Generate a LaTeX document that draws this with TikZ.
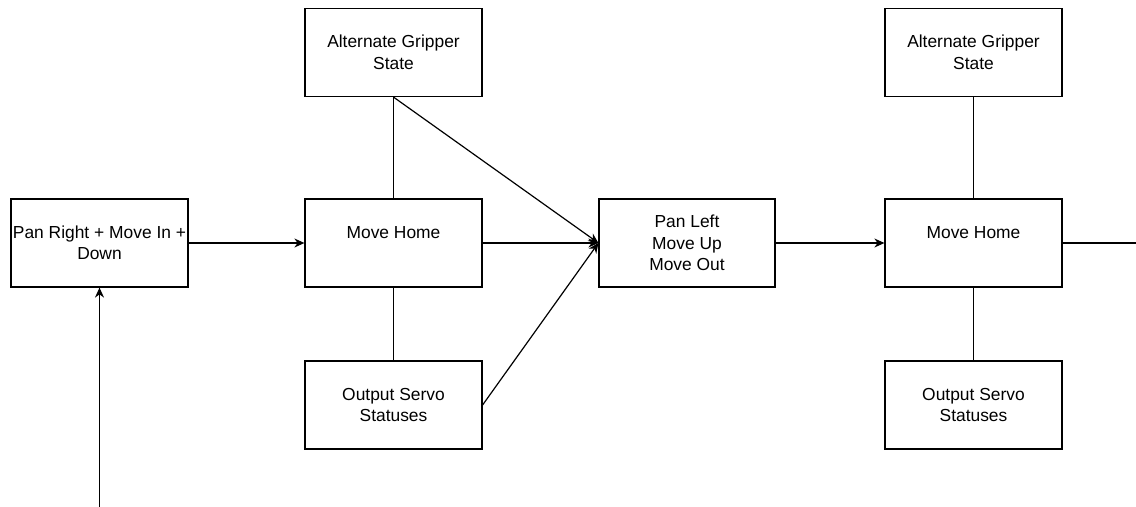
\documentclass[tikz,border=0pt]{standalone}
\usepackage{fontspec}
\setmainfont{Liberation Sans}
\usetikzlibrary{arrows.meta}
\begin{document}
\begin{tikzpicture}[x=0.5pt,y=-0.5pt,
  box/.style={draw, line width=0.6pt, minimum width=88.5pt, minimum height=44pt,
    inner sep=0pt, align=center, font=\fontsize{8.7pt}{10.75pt}\selectfont},
  link/.style={line width=0.6pt},
  flow/.style={link, -{Stealth[length=5pt,width=4.5pt,inset=1.6pt]}}]
\useasboundingbox (0,0) rectangle (1136,507);
% left column
\node[box] (start) at (99.5,243) {Pan Right + Move In +\\Down};
% first home group
\node[box] (grip1) at (393.5,52.5) {Alternate Gripper\\State};
\node[box] (home1) at (393.5,243) {Move Home\\\mbox{}};
\node[box] (serv1) at (393.5,405) {Output Servo\\Statuses};
% middle step
\node[box, minimum width=88pt] (panl) at (687,243) {Pan Left\\Move Up\\Move Out};
% second home group
\node[box] (grip2) at (973.5,52.5) {Alternate Gripper\\State};
\node[box] (home2) at (973.5,243) {Move Home\\\mbox{}};
\node[box] (serv2) at (973.5,405) {Output Servo\\Statuses};
% free ends
\coordinate (entry) at (99.5,507);
\coordinate (exit) at (1136,243);
% connectors
\draw[flow] (entry) -- (start.south);
\draw[flow] (start.east) -- (home1.west);
\draw[link] (home1.north) -- (grip1.south);
\draw[link] (home1.south) -- (serv1.north);
\draw[flow] (grip1.south) -- (panl.west);
\draw[flow] (home1.east) -- (panl.west);
\draw[flow] (serv1.east) -- (panl.west);
\draw[flow] (panl.east) -- (home2.west);
\draw[link] (home2.north) -- (grip2.south);
\draw[link] (home2.south) -- (serv2.north);
\draw[link] (home2.east) -- (exit);
\end{tikzpicture}
\end{document}
